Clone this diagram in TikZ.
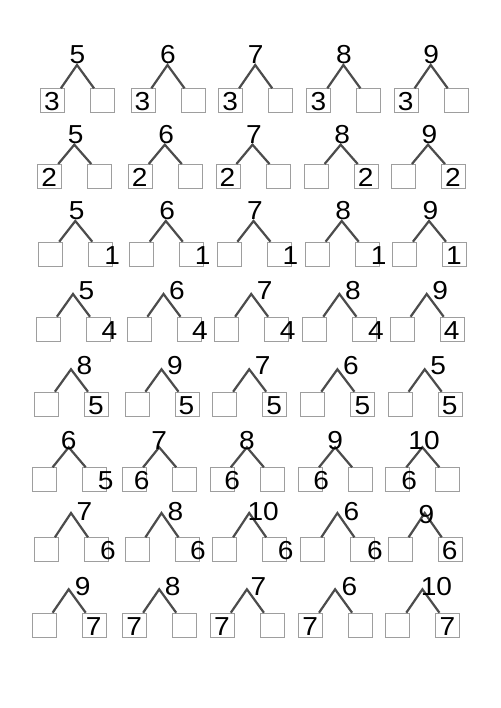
\documentclass[tikz,border=0pt]{standalone}
\usepackage{fontspec}
\newfontfamily\digitfont[FakeStretch=1.08]{Liberation Sans}
\usepackage{tikz}

\begin{document}
\begin{tikzpicture}[x=1pt, y=-1pt,
    bondbox/.style={draw=black!38, line width=0.9pt, minimum size=24pt, inner sep=0pt, anchor=north west},
    bondleg/.style={draw=black!70, line width=2.2pt},
    bondnum/.style={font=\digitfont\fontsize{26}{26}\selectfont, inner sep=0pt, anchor=base}]

      % Define the page
      \fill[white] (0,0) rectangle (500,708);
      \useasboundingbox (0,0) rectangle (500,708);

      % Draw the number bonds, row by row
      % row / left x / box top / apex height / {top / label dx / label dy / digit / digit x}
      \foreach \r/\xo/\y/\h/\bonds in {
        1/40/88.3/23.3/{5/0.5/-1.5/3/12, 6/0.5/-1.5/3/12, 7/0.5/-1.5/3/12, 8/0.5/-1.5/3/12, 9/0.5/-1.5/3/12},
        2/37.3/164/19.3/{5/1.5/-0.7/2/12, 6/1.5/-0.7/2/12, 7/1.5/-0.7/2/12, 8/1.5/-0.7/2/62, 9/1.5/-0.7/2/62},
        3/38.3/241.7/20.7/{5/1.5/-1/1/74, 6/1.5/-1/1/74, 7/1.5/-1/1/74, 8/1.5/-1/1/74, 9/1.5/-1/1/62},
        4/36/316.7/22.7/{5/13.5/5/4/73.5, 6/13.5/5/4/73.5, 7/13.5/5/4/73.5, 8/13.5/5/4/73.5, 9/13.5/5/4/62},
        5/34/391.7/22.4/{8/13.5/4.7/5/62, 9/13.5/4.7/5/62, 7/13.5/4.7/5/62, 6/13.5/4.7/5/62, 5/13.5/4.7/5/62},
        6/31.7/467.3/20/{6/0/1.7/5/74, 7/0/1.7/6/19.5, 8/0/1.7/6/22.2, 9/0/1.7/6/23, 10/1.6/1.7/6/23.8},
        7/34/537.3/24.3/{7/13.5/7/6/74, 8/14/7/6/73.5, 10/14/7/6/73.6, 6/14/7/6/74.5, 9/1.7/10/6/62},
        8/31.7/612.7/23.4/{9/14/6/7/62, 8/13.4/6/7/12, 7/11.6/6/7/12, 6/14.3/6/7/12, 10/14/6/7/62}}
      {
        \foreach \n/\lx/\ly/\d/\dx [count=\c] in \bonds {
          \pgfmathsetmacro{\bx}{\xo+{0,90.5,178.2,266.4,353.7}[\c-1]}
          % the two boxes and the apex
          \node[bondbox] (L\r\c) at (\bx,\y) {};
          \node[bondbox] (R\r\c) at (\bx+50,\y) {};
          \coordinate (A\r\c) at (\bx+37,\y-\h);
          % the legs
          \draw[bondleg] ([xshift=-4pt]L\r\c.north east) -- (A\r\c) -- ([xshift=4pt]R\r\c.north west);
          % the numbers
          \node[bondnum] (T\r\c) at ([shift={(\lx,\ly)}]A\r\c) {\n};
          \node[bondnum] (D\r\c) at (\bx+\dx,\y+22.5) {\d};
        }
      }
    \end{tikzpicture}
\end{document}
